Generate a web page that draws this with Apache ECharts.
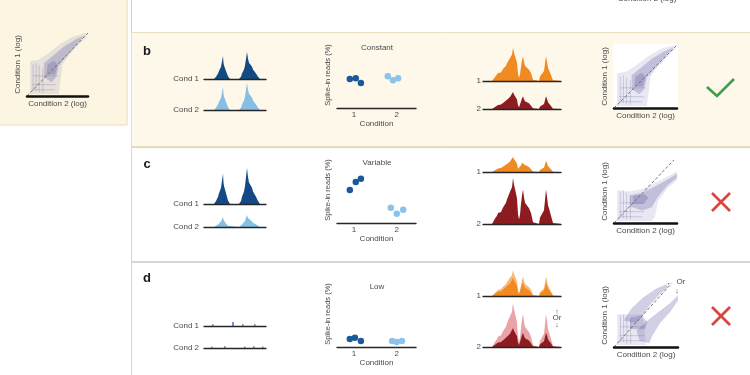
<!DOCTYPE html>
<html>
<head>
<meta charset="utf-8">
<script src="https://cdn.jsdelivr.net/npm/echarts@6/dist/echarts.min.js"></script>
<style>
  html, body {margin: 0; padding: 0; background: #fff;}
  #chart {width: 750px; height: 375px;}
</style>
</head>
<body>
<div id="chart"></div>
<script>
// peak shape of the Cond 1 / Cond 2 tracks: [position along track, relative height]
const condPeaks = [[0, 0], [10, 0], [12, 8], [14, 20], [15, 30], [16, 35], [17, 45], [18, 50], [19, 85], [19.5, 60],
  [20, 50], [21, 40], [22, 30], [23, 25], [24, 10], [26, 0], [35, 0], [37, 8], [38, 20], [40, 35], [41, 50], [42, 55],
  [43, 100], [44, 75], [45, 60], [46, 65], [47, 55], [48, 45], [49, 35], [50, 30], [52, 20], [54, 8], [56, 0], [62, 0]];
// tiny spikes of the "Low" row
const lowSpikes1 = [[9, 2], [39, 2], [51, 2]];
const lowSpikesBlue1 = [[29, 4]];
const lowSpikes2 = [[8, 1.5], [21, 2], [41, 1.5], [50, 2], [59, 1.5]];

// genome track shape (orange = 1, red = 2)
const trackPeaks = [[0, 0], [9, 0], [10, 4], [12, 12], [14, 18], [15, 24], [17, 28], [18, 26], [20, 36], [21, 40],
  [23, 46], [24, 54], [25, 50], [26, 58], [27, 70], [28, 66], [29, 80], [30, 100], [31, 86], [32, 76], [33, 80],
  [34, 56], [35, 22], [36, 10], [37, 20], [38, 44], [39, 62], [40, 75], [41, 58], [42, 46], [44, 40], [46, 34],
  [48, 24], [50, 4], [51, 0], [56, 0], [57, 14], [58, 10], [59, 22], [61, 30], [62, 52], [63, 75], [64, 60],
  [65, 40], [66, 34], [68, 18], [70, 2], [71, 0], [78, 0]];

// spike-in reads (%) per replicate: [condition (jittered), value]
const conditionTicks = [1, 2];
const constantCond1 = [[0.9, 4.4], [1.04, 4.5], [1.16, 3.8]];
const constantCond2 = [[1.79, 4.8], [1.91, 4.2], [2.03, 4.5]];
const variableCond1 = [[0.9, 5.0], [1.04, 6.2], [1.16, 6.7]];
const variableCond2 = [[1.86, 2.3], [2.0, 1.4], [2.15, 2.0]];
const lowCond1 = [[0.9, 1.2], [1.02, 1.4], [1.16, 0.9]];
const lowCond2 = [[1.89, 0.9], [2.0, 0.75], [2.12, 0.9]];

// log-log scatter clouds, outlines in axis units (0-10)
const normalOuter = [[0.5, 0.3], [0.5, 5.5], [2, 5.8], [3.5, 6.8], [5.5, 8.3], [7.5, 9.4], [9.5, 10], [9.8, 9.4],
  [8.5, 8.2], [7, 6.6], [5.8, 5.0], [5.5, 2.5], [5.2, 0.3]];
const normalCore = [[2.8, 3.0], [2.8, 5.2], [4, 6.2], [6, 7.8], [8, 9.0], [9.4, 9.6], [8, 8.0], [6.5, 6.3],
  [5.2, 4.8], [4.8, 3.0], [4, 2.2]];
const normalDense = [[3.2, 3.4], [3.4, 5.0], [4.4, 5.6], [5, 5], [4.6, 3.4]];
const variableOuter = [[0.5, 0.3], [0.5, 5.2], [2.5, 5.0], [4.5, 5.4], [6.5, 6.3], [8.5, 7.4], [10, 8.2], [10, 6.8],
  [8.5, 5.5], [7, 3.5], [6.5, 1.0], [6.0, 0.3]];
const variableCore = [[2.5, 2.6], [2.5, 4.4], [4.5, 4.8], [6.5, 5.8], [8.5, 6.9], [10, 7.8], [10, 7.2], [8.5, 6.0],
  [7, 4.2], [6, 2.5], [4.5, 2.0]];
const variableDense = [[3, 3], [3, 4.3], [4.8, 4.6], [5.5, 4], [4.6, 3]];
const lowOuter = [[0.5, 0.3], [0.5, 5.2], [4.5, 5.2], [5, 0.3]];
const lowUpper = [[1.5, 4.2], [2.8, 6.2], [4.5, 7.8], [6.5, 9.2], [8.2, 10], [8.4, 9.5], [7, 8.2], [5.5, 6.5],
  [4.5, 5], [3.5, 3.8]];
const lowLower = [[3.5, 2.6], [5.0, 4.0], [7, 5.6], [8.8, 7.0], [10, 8.2], [10, 7.4], [8.8, 5.6], [7.2, 3.8],
  [6, 1.8], [5.5, 0.6], [4, 1]];
const lowDense = [[2.5, 2.8], [2.5, 4.6], [4.2, 5], [5.2, 4], [4.8, 2.8]];
const noiseStreaks = [[[1, 0.8], [1, 5]], [[1.5, 0.8], [1.5, 5.2]], [[2, 0.6], [2, 4.8]], [[2.6, 0.5], [2.6, 4.4]],
  [[0.8, 1], [4.5, 1]], [[0.8, 1.8], [4.8, 1.8]], [[1, 3.2], [5, 3.2]]];
const diagFull = [[0, 0], [10, 10]];
const diagVariable = [[0, 0], [9.5, 10]];
const diagLow = [[0, 0], [8.9, 10]];

const font = '"Liberation Sans", "DejaVu Sans", Arial, sans-serif';
const txt = '#4a4a4a';
const navy = '#134a85', sky = '#86bfe6';
const grid = [], xAxis = [], yAxis = [], series = [], graphic = [];
const off = {show: false};

function addGrid(left, top, width, height, xa, ya) {
  const i = grid.length;
  grid.push({left, top, width, height, containLabel: false, outerBoundsMode: 'none'});
  xAxis.push(Object.assign({gridIndex: i, type: 'value', show: false, splitLine: off, axisTick: off, axisLabel: off}, xa));
  yAxis.push(Object.assign({gridIndex: i, type: 'value', show: false, splitLine: off, axisTick: off, axisLabel: off, axisLine: off}, ya));
  return i;
}

function text(x, y, str, opt) {
  return {
    type: 'text', x, y, z: 10, silent: true,
    style: Object.assign({
      text: str, fontSize: 8, fontFamily: font, fill: txt,
      align: 'center', textAlign: 'center', verticalAlign: 'middle', textVerticalAlign: 'middle'
    }, opt || {})
  };
}

// filled area track, baseline drawn by the x axis
function track(left, width, base, height, profile, color, withLine) {
  const g = addGrid(left, base - height, width, height,
    {min: 0, max: width, show: withLine, z: 5, axisLine: {lineStyle: {color: '#262626', width: 1.4}}},
    {min: 0, max: 100});
  series.push({
    type: 'line', xAxisIndex: g, yAxisIndex: g, data: profile, showSymbol: false, silent: true,
    lineStyle: {width: 0}, areaStyle: {color: color, opacity: 1}
  });
}

function spikes(base, black, blue) {
  const g = addGrid(204, base - 5, 62, 5,
    {min: 0, max: 62, show: true, z: 5, axisLine: {lineStyle: {color: '#262626', width: 1.4}}},
    {min: 0, max: 5});
  series.push({type: 'bar', xAxisIndex: g, yAxisIndex: g, data: black, barWidth: 1, barGap: '-100%', silent: true, itemStyle: {color: '#555'}});
  series.push({type: 'bar', xAxisIndex: g, yAxisIndex: g, data: blue, barWidth: 1.3, barGap: '-100%', silent: true, itemStyle: {color: '#1f5fa3'}});
}

function dots(top, title, d1, d2) {
  const g = addGrid(337, top, 79, 66, {
    min: 0.6, max: 2.45, show: true, z: 5,
    axisLine: {lineStyle: {color: '#262626', width: 1.4}},
    axisLabel: {show: true, customValues: conditionTicks, fontSize: 8, fontFamily: font, color: txt, margin: 3},
    name: 'Condition', nameLocation: 'middle', nameGap: 10,
    nameTextStyle: {fontSize: 8, fontFamily: font, color: txt}
  }, {
    min: 0, max: 10, show: true,
    name: 'Spike-in reads (%)', nameLocation: 'middle', nameRotate: 90, nameGap: 5,
    nameTextStyle: {fontSize: 7.5, fontFamily: font, color: txt}
  });
  series.push({type: 'scatter', xAxisIndex: g, yAxisIndex: g, data: d1, symbolSize: 6.5, silent: true, itemStyle: {color: '#1b5a9a', opacity: 1}});
  series.push({type: 'scatter', xAxisIndex: g, yAxisIndex: g, data: d2, symbolSize: 6.5, silent: true, itemStyle: {color: '#8cc3ea', opacity: 1}});
  graphic.push(text(377, top + 6, title));
}

// list = array of outlines, each outline an array of [x, y]
function shapes(g, list, style, kind) {
  series.push({
    type: 'custom', xAxisIndex: g, yAxisIndex: g, silent: true,
    data: list.map((s, i) => [i, 0]),
    renderItem: (params, api) => ({
      type: kind,
      shape: {points: list[params.dataIndex].map(p => api.coord(p))},
      style: style
    })
  });
}

function density(left, top, w, h, diag, outer, cores, dense) {
  const g = addGrid(left, top, w, h, {
    min: 0, max: 10, show: true, z: 5,
    axisLine: {lineStyle: {color: '#111', width: 2.5}},
    name: 'Condition 2 (log)', nameLocation: 'middle', nameGap: 4,
    nameTextStyle: {fontSize: 8, fontFamily: font, color: txt}
  }, {
    min: 0, max: 10, show: true,
    name: 'Condition 1 (log)', nameLocation: 'middle', nameRotate: 90, nameGap: 5,
    nameTextStyle: {fontSize: 8, fontFamily: font, color: txt}
  });
  shapes(g, outer, {fill: 'rgba(145,142,190,0.2)'}, 'polygon');
  shapes(g, noiseStreaks, {stroke: 'rgba(110,108,160,0.28)', lineWidth: 1, fill: null}, 'polyline');
  shapes(g, cores, {fill: 'rgba(118,114,172,0.34)'}, 'polygon');
  shapes(g, dense, {fill: 'rgba(100,96,155,0.3)'}, 'polygon');
  series.push({
    type: 'line', xAxisIndex: g, yAxisIndex: g, data: diag, showSymbol: false, silent: true, z: 4,
    lineStyle: {color: '#707070', width: 1, type: [3, 2]}
  });
}

// backgrounds and panel frames
graphic.push({type: 'rect', z: 0, silent: true, shape: {x: -1, y: -1, width: 128, height: 126}, style: {fill: '#fbf5e2', stroke: '#e8dcb8'}});
graphic.push({type: 'line', z: 0, silent: true, shape: {x1: 131.5, y1: 0, x2: 131.5, y2: 375}, style: {stroke: '#d2d2d2'}});
graphic.push({type: 'rect', z: 0, silent: true, shape: {x: 131.5, y: 32.5, width: 620, height: 114}, style: {fill: '#fdf8ea', stroke: '#e9debd'}});
graphic.push({type: 'rect', z: 0, silent: true, shape: {x: 131.5, y: 147.5, width: 620, height: 114}, style: {fill: '#fff', stroke: '#d6d6d6'}});
graphic.push({type: 'rect', z: 0, silent: true, shape: {x: 131.5, y: 262.5, width: 620, height: 114}, style: {fill: '#fff', stroke: '#d6d6d6'}});
graphic.push({type: 'rect', z: 1, silent: true, shape: {x: 613, y: 44, width: 65, height: 64}, style: {fill: '#fff'}});
graphic.push(text(647, -1, 'Condition 2 (log)'));

// left panel (a)
density(27, 33, 61, 63, diagFull, [normalOuter], [normalCore], [normalDense]);

// rows b, c, d
const letters = [['b', 51], ['c', 164], ['d', 278]];
letters.forEach(([l, y]) => graphic.push(text(147, y, l, {fontSize: 13, fontWeight: 'bold', fill: '#1a1a1a'})));
[[79, 110], [204, 227], [326, 348]].forEach(([y1, y2]) => {
  graphic.push(text(199, y1, 'Cond 1', {align: 'right', textAlign: 'right'}));
  graphic.push(text(199, y2, 'Cond 2', {align: 'right', textAlign: 'right'}));
});
[[81, 109], [172, 224], [296, 347]].forEach(([y1, y2]) => {
  graphic.push(text(481, y1, '1', {align: 'right', textAlign: 'right'}));
  graphic.push(text(481, y2, '2', {align: 'right', textAlign: 'right'}));
});

// b: constant
track(204, 62, 79, 27, condPeaks, navy, true);
track(204, 62, 110, 27, condPeaks, sky, true);
dots(42, 'Constant', constantCond1, constantCond2);
track(483, 78, 81, 33, trackPeaks, '#f28a22', true);
track(483, 78, 109, 17, trackPeaks, '#8d1c21', true);
density(614, 45, 63, 63, diagFull, [normalOuter], [normalCore], [normalDense]);
graphic.push({type: 'polyline', z: 10, silent: true, shape: {points: [[707, 87], [717, 96], [734, 79]]}, style: {stroke: '#3f9e4a', lineWidth: 2.6, fill: null}});

// c: variable
track(204, 62, 204, 36, condPeaks, navy, true);
track(204, 62, 227, 12, condPeaks, sky, true);
dots(157, 'Variable', variableCond1, variableCond2);
track(483, 78, 172, 15, trackPeaks, '#f28a22', true);
track(483, 78, 224, 46, trackPeaks, '#8d1c21', true);
density(614, 160, 63, 63, diagVariable, [variableOuter], [variableCore], [variableDense]);

// d: low
spikes(326, lowSpikes1, lowSpikesBlue1);
spikes(348, lowSpikes2, []);
dots(281, 'Low', lowCond1, lowCond2);
track(483, 78, 296, 26, trackPeaks, '#f8b873', true);
track(483, 78, 296, 18, trackPeaks, '#f28a22', false);
track(483, 78, 347, 44, trackPeaks, '#eaa3a6', true);
track(483, 78, 347, 19, trackPeaks, '#8d1c21', false);
graphic.push(text(557, 312, '↑', {fontSize: 7}));
graphic.push(text(557, 318, 'Or', {fontSize: 8}));
graphic.push(text(557, 325, '↓', {fontSize: 7}));
density(614, 284, 64, 63, diagLow, [lowOuter], [lowUpper, lowLower], [lowDense]);
graphic.push(text(670, 283, '←', {fontSize: 7}));
graphic.push(text(681, 282, 'Or', {fontSize: 8}));
graphic.push(text(677, 291, '↓', {fontSize: 7}));

// red crosses
[[721, 202], [721, 316]].forEach(([cx, cy]) => {
  graphic.push({type: 'line', z: 10, silent: true, shape: {x1: cx - 9, y1: cy - 9, x2: cx + 9, y2: cy + 9}, style: {stroke: '#d8463f', lineWidth: 2.6}});
  graphic.push({type: 'line', z: 10, silent: true, shape: {x1: cx - 9, y1: cy + 9, x2: cx + 9, y2: cy - 9}, style: {stroke: '#d8463f', lineWidth: 2.6}});
});

const chart = echarts.init(document.getElementById('chart'));
chart.setOption({
  animation: false,
  textStyle: {fontFamily: font},
  grid, xAxis, yAxis, series, graphic
});
</script>
</body>
</html>
